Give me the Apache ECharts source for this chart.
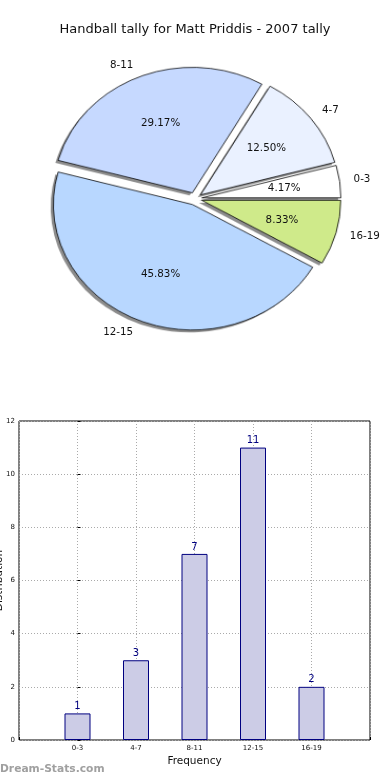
<!DOCTYPE html>
<html><head><meta charset="utf-8">
<script src="https://cdn.jsdelivr.net/npm/echarts@6/dist/echarts.min.js"></script>
<style>
html,body{margin:0;padding:0;background:#fff}
#wrap{position:relative;width:390px;height:780px;overflow:hidden}
#pie,#main{position:absolute;left:0;top:0;width:390px;height:780px}
</style>
</head><body><div id="wrap"><div id="pie"></div><div id="main"></div></div>
<script>
const chartTitle = 'Handball tally for Matt Priddis - 2007 tally';
const categories = ['0-3', '4-7', '8-11', '12-15', '16-19'];
const tallies = [1, 3, 7, 11, 2];
const sliceColors = ['#ffffff', '#eaf1ff', '#c6d9ff', '#b8d7ff', '#cfea8a'];
const xAxisName = 'Frequency';
const yAxisName = 'Distribution';
const watermark = 'Dream-Stats.com';

const FONT = 'DejaVu Sans';
const total = tallies.reduce((a, b) => a + b, 0);
// pie geometry: circular pie, stretched into the reference's ellipse
const R = 132, C = [195, 198.65], OFF = 6.6, SX = 1.053, SY = 0.951;

const pieEl = document.getElementById('pie');
pieEl.style.transformOrigin = C[0] + 'px ' + C[1] + 'px';
pieEl.style.transform = 'scale(' + SX + ',' + SY + ')';

const mk = (extra) => categories.map((c, i) => Object.assign({ name: c, value: tallies[i], selected: true }, extra ? extra(i) : {}));

const pieCommon = {
  type: 'pie', startAngle: 0, clockwise: false, selectedMode: 'multiple', selectedOffset: OFF,
  avoidLabelOverlap: false, silent: true, animation: false, emphasis: { disabled: true },
  center: C, radius: [0, R]
};

// Sectors (stretched layer)
const pieChart = echarts.init(pieEl, null, { renderer: 'canvas' });
pieChart.setOption({
  animation: false,
  series: [
    Object.assign({}, pieCommon, {
      center: [C[0] - 2.6, C[1] + 2.6], z: 1,
      itemStyle: { color: 'rgba(0,0,0,0.45)', borderWidth: 0 },
      label: { show: false }, labelLine: { show: false },
      data: mk()
    }),
    Object.assign({}, pieCommon, {
      z: 2,
      itemStyle: { borderColor: '#000', borderWidth: 0.8 },
      label: { show: false }, labelLine: { show: false },
      data: mk(i => ({ itemStyle: { color: sliceColors[i] } }))
    })
  ]
});

// shift a label from the circular layout onto the ellipse (relative offset only)
function stretchLabel(p) {
  const r = p.labelRect;
  const ax = r.x + r.width / 2, ay = r.y + r.height / 2;
  return { dx: (ax - C[0]) * (SX - 1), dy: (ay - C[1]) * (SY - 1) };
}

const chart = echarts.init(document.getElementById('main'), null, { renderer: 'canvas' });
chart.setOption({
  animation: false,
  backgroundColor: 'transparent',
  title: { text: chartTitle, left: 'center', top: 18, textStyle: { fontFamily: FONT, fontSize: 13, fontWeight: 'normal', color: '#111' } },
  grid: { left: 19, right: 20, top: 421, bottom: 40, outerBoundsMode: 'none', containLabel: false,
    show: true, borderColor: '#000', borderWidth: 1, backgroundColor: 'transparent' },
  xAxis: {
    type: 'value', min: -1, max: 5, interval: 1,
    name: xAxisName, nameLocation: 'middle', nameGap: 16, nameMoveOverlap: false,
    nameTextStyle: { fontFamily: FONT, fontSize: 10.5, color: '#111' },
    axisLine: { show: false },
    axisTick: { show: true, inside: true, length: 3, lineStyle: { color: '#000' } },
    axisLabel: { fontFamily: FONT, fontSize: 7, color: '#111', margin: 5,
      formatter: v => (v >= 0 && v < categories.length ? categories[v] : '') },
    splitLine: { show: true, lineStyle: { type: [1, 2], color: '#aaa', width: 1 } }
  },
  yAxis: {
    type: 'value', min: 0, max: 12, interval: 2,
    name: yAxisName, nameLocation: 'middle', nameGap: 14, nameMoveOverlap: false,
    nameTextStyle: { fontFamily: FONT, fontSize: 10.5, color: '#111' },
    axisLine: { show: false },
    axisTick: { show: true, inside: true, length: 3, lineStyle: { color: '#000' } },
    axisLabel: { fontFamily: FONT, fontSize: 7, color: '#111', margin: 4 },
    splitLine: { show: true, lineStyle: { type: [1, 2], color: '#aaa', width: 1 } }
  },
  series: [
    Object.assign({}, pieCommon, {
      z: 3,
      itemStyle: { color: 'rgba(0,0,0,0)', borderWidth: 0 },
      label: { show: true, position: 'outside', fontFamily: FONT, fontSize: 10.3, color: '#111', distanceToLabelLine: 0 },
      labelLine: { show: false, length: 13.2, length2: 0 },
      labelLayout: stretchLabel,
      data: mk()
    }),
    Object.assign({}, pieCommon, {
      radius: [20.4, R], z: 3,
      itemStyle: { color: 'rgba(0,0,0,0)', borderWidth: 0 },
      label: { show: true, position: 'inside', fontFamily: FONT, fontSize: 10.3, color: '#111',
        formatter: p => (p.value / total * 100).toFixed(2) + '%' },
      labelLine: { show: false },
      labelLayout: stretchLabel,
      data: mk()
    }),
    {
      type: 'bar', barWidth: 26, silent: true,
      itemStyle: { color: '#ccccE6', borderColor: '#000080', borderWidth: 1 },
      label: { show: true, position: 'top', distance: 2, fontFamily: FONT, fontSize: 10, color: '#000080' },
      data: categories.map((c, i) => [i, tallies[i]])
    }
  ],
  graphic: [{
    type: 'text', left: 0, top: 764,
    style: { text: watermark, fontFamily: FONT, fontSize: 10.7, fontWeight: 'bold', fill: '#a0a0a0' }
  }]
});
</script></body></html>
